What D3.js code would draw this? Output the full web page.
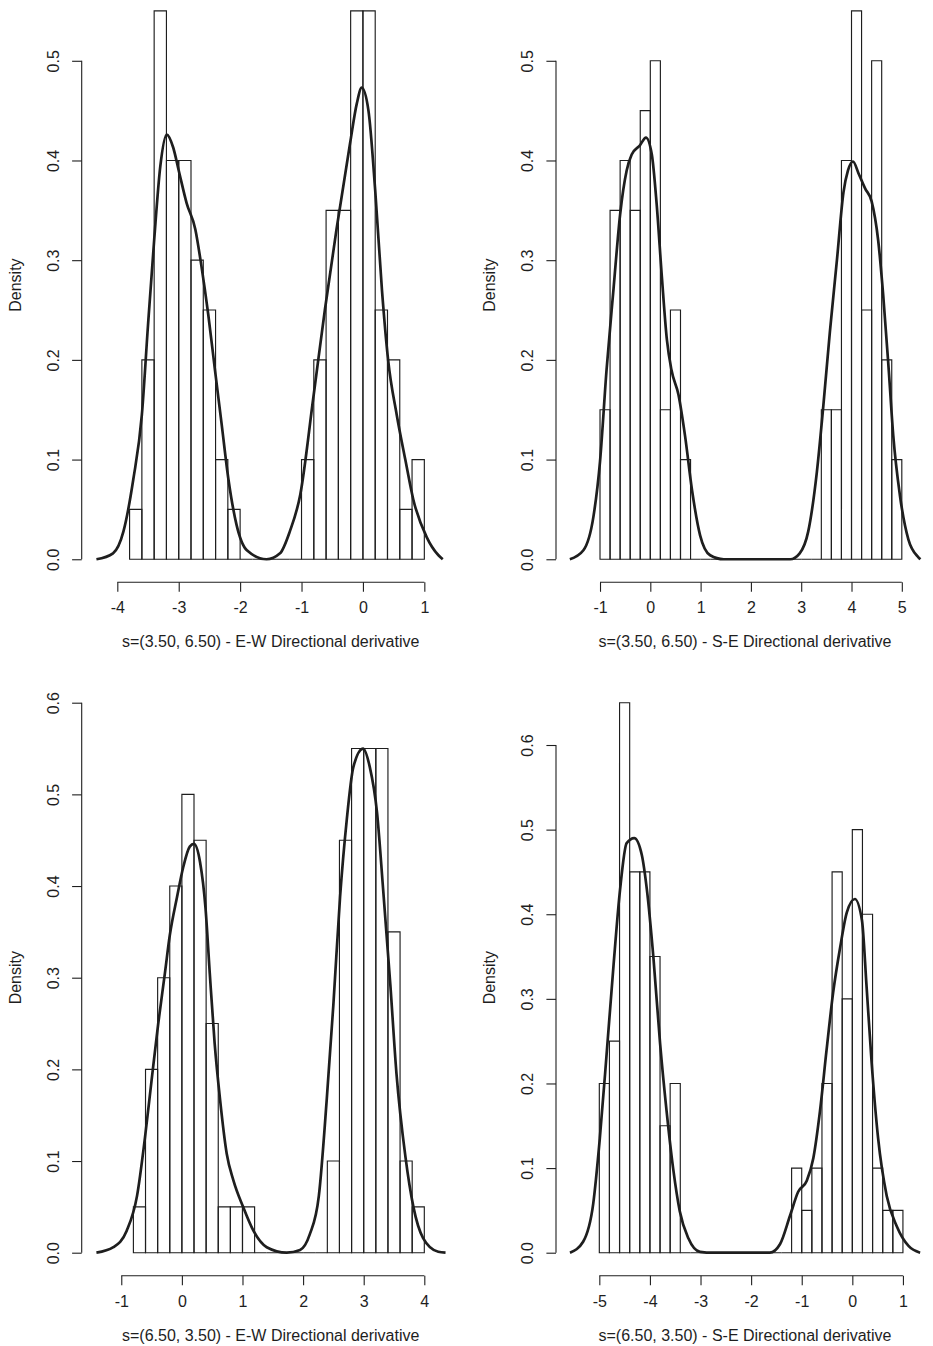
<!DOCTYPE html>
<html>
<head>
<meta charset="utf-8">
<script src="https://cdnjs.cloudflare.com/ajax/libs/d3/7.8.5/d3.min.js"></script>
<style>
  body { margin: 0; background: #fff; }
  svg { display: block; }
</style>
</head>
<body>
<svg id="chart"></svg>
<script>
// histogram bin width shared by all four panels
const binWidth = 0.2;

// s=(3.50, 6.50) E-W
const ewTopStart = -3.8;
const ewTopDensity = [0.05, 0.2, 0.55, 0.4, 0.4, 0.3, 0.25, 0.1, 0.05, 0, 0, 0, 0, 0,
  0.1, 0.2, 0.35, 0.35, 0.55, 0.55, 0.25, 0.2, 0.05, 0.1];
const ewTopCurveX = [-4.34, -4.07, -3.90, -3.74, -3.60, -3.50, -3.40, -3.30, -3.195, -3.09, -3.0, -2.87, -2.73,
  -2.63, -2.52, -2.41, -2.30, -2.19, -2.06, -1.89, -1.57, -1.35, -1.19, -1.02, -0.81, -0.62, -0.43, -0.21,
  -0.10, -0.02, 0.09, 0.20, 0.31, 0.41, 0.55, 0.69, 0.82, 1.04, 1.23, 1.30];
const ewTopCurveY = [0, 0.006, 0.028, 0.08, 0.145, 0.235, 0.32, 0.394, 0.426, 0.413, 0.39, 0.357, 0.331,
  0.294, 0.246, 0.19, 0.135, 0.08, 0.035, 0.009, 0, 0.006, 0.028, 0.065, 0.161, 0.25, 0.331, 0.417,
  0.457, 0.473, 0.45, 0.37, 0.27, 0.20, 0.145, 0.10, 0.06, 0.022, 0.004, 0];
const ewTopTicks = [-4, -3, -2, -1, 0, 1];

// s=(3.50, 6.50) S-E
const seTopStart = -1.0;
const seTopDensity = [0.15, 0.35, 0.4, 0.35, 0.45, 0.5, 0.15, 0.25, 0.1, 0, 0, 0, 0, 0, 0, 0, 0, 0, 0, 0, 0, 0,
  0.15, 0.15, 0.4, 0.55, 0.25, 0.5, 0.2, 0.1];
const seTopCurveX = [-1.60, -1.33, -1.13, -1.0, -0.87, -0.73, -0.60, -0.47, -0.37, -0.21, -0.086, 0.03, 0.125,
  0.23, 0.33, 0.42, 0.56, 0.69, 0.83, 0.99, 1.19, 1.46, 2.78, 2.97, 3.14, 3.31, 3.44, 3.57, 3.71, 3.84,
  3.93, 4.03, 4.14, 4.27, 4.40, 4.53, 4.63, 4.74, 4.83, 4.96, 5.13, 5.33, 5.37];
const seTopCurveY = [0, 0.009, 0.043, 0.098, 0.19, 0.272, 0.346, 0.39, 0.406, 0.415, 0.423, 0.406, 0.357,
  0.283, 0.22, 0.19, 0.165, 0.124, 0.069, 0.024, 0.004, 0, 0, 0.006, 0.028, 0.087, 0.154, 0.228, 0.30, 0.368,
  0.39, 0.399, 0.387, 0.372, 0.359, 0.32, 0.265, 0.19, 0.124, 0.065, 0.02, 0.002, 0];
const seTopTicks = [-1, 0, 1, 2, 3, 4, 5];

// s=(6.50, 3.50) E-W
const ewBotStart = -0.8;
const ewBotDensity = [0.05, 0.2, 0.3, 0.4, 0.5, 0.45, 0.25, 0.05, 0.05, 0.05, 0, 0, 0, 0, 0, 0,
  0.1, 0.45, 0.55, 0.55, 0.55, 0.35, 0.1, 0.05];
const ewBotCurveX = [-1.41, -1.13, -0.91, -0.74, -0.61, -0.50, -0.39, -0.28, -0.20, -0.08, 0.02, 0.13, 0.20,
  0.30, 0.39, 0.46, 0.54, 0.63, 0.74, 0.85, 1.01, 1.18, 1.40, 1.73, 1.95, 2.11, 2.26, 2.39, 2.50, 2.61,
  2.72, 2.83, 2.99, 3.10, 3.22, 3.32, 3.44, 3.54, 3.69, 3.82, 3.98, 4.23, 4.35];
const ewBotCurveY = [0, 0.006, 0.024, 0.062, 0.125, 0.188, 0.25, 0.305, 0.346, 0.388, 0.42, 0.443, 0.446,
  0.426, 0.376, 0.305, 0.229, 0.167, 0.108, 0.079, 0.05, 0.024, 0.006, 0, 0.003, 0.02, 0.062, 0.167, 0.271, 0.388,
  0.472, 0.53, 0.55, 0.53, 0.48, 0.397, 0.292, 0.196, 0.104, 0.05, 0.016, 0.001, 0];
const ewBotTicks = [-1, 0, 1, 2, 3, 4];

// s=(6.50, 3.50) S-E
const seBotStart = -5.0;
const seBotDensity = [0.2, 0.25, 0.65, 0.45, 0.45, 0.35, 0.15, 0.2, 0, 0, 0, 0, 0, 0, 0, 0, 0, 0, 0,
  0.1, 0.05, 0.1, 0.2, 0.45, 0.3, 0.5, 0.4, 0.1, 0.05, 0.05];
const seBotCurveX = [-5.58, -5.32, -5.12, -4.99, -4.85, -4.72, -4.59, -4.46, -4.31, -4.16, -4.06, -3.93, -3.80,
  -3.67, -3.54, -3.41, -3.24, -3.01, -2.75, -1.63, -1.43, -1.23, -1.07, -0.90, -0.77, -0.64, -0.51, -0.38,
  -0.24, -0.11, 0.05, 0.19, 0.28, 0.38, 0.51, 0.68, 0.88, 1.11, 1.34];
const seBotCurveY = [0, 0.013, 0.058, 0.135, 0.239, 0.339, 0.429, 0.484, 0.49, 0.47, 0.429, 0.348, 0.248,
  0.167, 0.099, 0.049, 0.017, 0.001, 0, 0, 0.01, 0.044, 0.072, 0.085, 0.112, 0.167, 0.239, 0.307,
  0.361, 0.402, 0.418, 0.393, 0.316, 0.226, 0.135, 0.067, 0.031, 0.008, 0];
const seBotTicks = [-5, -4, -3, -2, -1, 0, 1];

const yTicksTop = [0, 0.1, 0.2, 0.3, 0.4, 0.5];
const yTicksBot = [0, 0.1, 0.2, 0.3, 0.4, 0.5, 0.6];

// page layout
const width = 933, height = 1346;
const plotW = 378;
const colLeft = [81.7, 556];
const rowTop = [-11, 680.7];
const rowBottom = [581.2, 1274.7];
const font = '"Liberation Sans", Arial, Helvetica, sans-serif';
const fontSize = 16;
const ink = '#1e1e1e';

const panels = [
  { row: 0, col: 0, start: ewTopStart, dens: ewTopDensity, cx: ewTopCurveX, cy: ewTopCurveY,
    xTicks: ewTopTicks, yTicks: yTicksTop, xlim: [-4.58, 1.576], ymax: 0.55,
    title: 's=(3.50, 6.50) - E-W Directional derivative' },
  { row: 0, col: 1, start: seTopStart, dens: seTopDensity, cx: seTopCurveX, cy: seTopCurveY,
    xTicks: seTopTicks, yTicks: yTicksTop, xlim: [-1.875, 5.640], ymax: 0.55,
    title: 's=(3.50, 6.50) - S-E Directional derivative' },
  { row: 1, col: 0, start: ewBotStart, dens: ewBotDensity, cx: ewBotCurveX, cy: ewBotCurveY,
    xTicks: ewBotTicks, yTicks: yTicksBot, xlim: [-1.653, 4.584], ymax: 0.6,
    title: 's=(6.50, 3.50) - E-W Directional derivative' },
  { row: 1, col: 1, start: seBotStart, dens: seBotDensity, cx: seBotCurveX, cy: seBotCurveY,
    xTicks: seBotTicks, yTicks: yTicksBot, xlim: [-5.856, 1.614], ymax: 0.65,
    title: 's=(6.50, 3.50) - S-E Directional derivative' }
];

const svg = d3.select('#chart')
  .attr('width', width)
  .attr('height', height)
  .attr('viewBox', `0 0 ${width} ${height}`);

svg.append('rect').attr('width', width).attr('height', height).attr('fill', '#fff');

panels.forEach((p, i) => {
  const left = colLeft[p.col];
  const right = left + plotW;
  const top = rowTop[p.row];
  const bottom = rowBottom[p.row];

  // R style 4% extension of the y range
  const pad = p.ymax * 0.04;
  const x = d3.scaleLinear().domain(p.xlim).range([left, right]);
  const y = d3.scaleLinear().domain([-pad, p.ymax + pad]).range([bottom, top]);

  svg.append('defs').append('clipPath')
    .attr('id', `clip-${i}`)
    .append('rect')
    .attr('x', left).attr('y', Math.max(top, 0))
    .attr('width', plotW).attr('height', bottom - Math.max(top, 0));

  const g = svg.append('g').attr('clip-path', `url(#clip-${i})`);

  // histogram bars (paths so empty bins still show as a line)
  const bins = p.dens.map((d, k) => ({ x0: p.start + k * binWidth, x1: p.start + (k + 1) * binWidth, d }));
  g.selectAll('path.bar')
    .data(bins)
    .enter()
    .append('path')
    .attr('class', 'bar')
    .attr('d', b => `M${x(b.x0)},${y(0)}V${y(b.d)}H${x(b.x1)}V${y(0)}Z`)
    .attr('fill', 'none')
    .attr('stroke', ink)
    .attr('stroke-width', 1.15);

  // density curve
  const pts = p.cx.map((v, k) => [v, p.cy[k]]);
  const line = d3.line()
    .x(d => x(d[0]))
    .y(d => y(d[1]))
    .curve(d3.curveMonotoneX);

  g.append('path')
    .datum(pts)
    .attr('d', line)
    .attr('fill', 'none')
    .attr('stroke', ink)
    .attr('stroke-width', 2.7)
    .attr('stroke-linejoin', 'round');

  // x axis (R style: line only between first and last tick, hyphen minus)
  const xAxis = svg.append('g')
    .attr('transform', `translate(0, ${bottom + 1})`)
    .call(d3.axisBottom(x).tickValues(p.xTicks).tickSize(9.6).tickSizeOuter(0).tickPadding(10)
      .tickFormat(d => String(d)));
  xAxis.select('.domain').remove();
  xAxis.append('line')
    .attr('x1', x(p.xTicks[0])).attr('x2', x(p.xTicks[p.xTicks.length - 1]))
    .attr('stroke', ink);
  xAxis.selectAll('line').attr('stroke', ink).attr('stroke-width', 1.1);
  xAxis.selectAll('text')
    .attr('font-family', font).attr('font-size', fontSize).attr('fill', ink);

  // y axis
  const yAxis = svg.append('g')
    .attr('transform', `translate(${left}, 0)`)
    .call(d3.axisLeft(y).tickValues(p.yTicks).tickSize(9.6).tickFormat(d3.format('.1f')));
  yAxis.select('.domain').remove();
  yAxis.append('line')
    .attr('y1', y(p.yTicks[0])).attr('y2', y(p.yTicks[p.yTicks.length - 1]))
    .attr('stroke', ink);
  yAxis.selectAll('line').attr('stroke', ink).attr('stroke-width', 1.1);
  yAxis.selectAll('.tick text')
    .attr('x', null)
    .attr('text-anchor', 'middle')
    .attr('transform', 'translate(-28.4, 0) rotate(-90)')
    .attr('dy', '0.35em')
    .attr('font-family', font).attr('font-size', fontSize).attr('fill', ink);

  // axis titles
  svg.append('text')
    .attr('x', (left + right) / 2)
    .attr('y', bottom + 66)
    .attr('text-anchor', 'middle')
    .attr('font-family', font).attr('font-size', fontSize).attr('fill', ink)
    .text(p.title);

  svg.append('text')
    .attr('transform', `translate(${left - 66.7}, ${(top + bottom) / 2}) rotate(-90)`)
    .attr('dy', '0.35em')
    .attr('text-anchor', 'middle')
    .attr('font-family', font).attr('font-size', fontSize).attr('fill', ink)
    .text('Density');
});
</script>
</body>
</html>
